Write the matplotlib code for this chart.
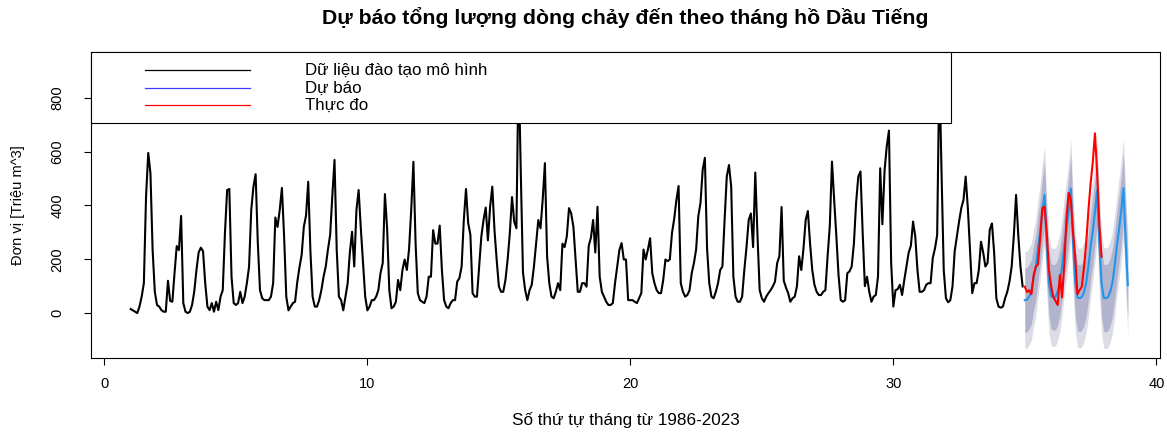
import numpy as np
import matplotlib.pyplot as plt
from matplotlib.patches import Rectangle
from matplotlib.lines import Line2D

plt.rcParams['font.family'] = ['Liberation Sans', 'DejaVu Sans']

# monthly inflow, training period (34 years, first month at x = 1)
train = [
    15, 10, 5, 0, 24, 61, 111, 433, 595, 520, 234, 79,
    30, 24, 11, 5, 5, 120, 45, 42, 149, 249, 234, 361,
    37, 5, 0, 5, 30, 80, 160, 225, 243, 230, 111, 24,
    11, 37, 5, 42, 11, 61, 85, 297, 457, 461, 135, 37,
    30, 37, 79, 37, 61, 111, 172, 383, 470, 516, 260, 85,
    55, 48, 48, 48, 61, 111, 355, 320, 383, 465, 284, 60,
    10, 24, 37, 42, 115, 170, 216, 321, 362, 488, 230, 61,
    24, 24, 48, 85, 135, 173, 236, 290, 435, 569, 236, 61,
    48, 10, 61, 111, 225, 302, 173, 383, 457, 315, 186, 61,
    10, 24, 48, 48, 61, 85, 149, 186, 442, 315, 85, 18,
    24, 42, 123, 85, 160, 199, 160, 236, 383, 562, 258, 74,
    48, 42, 37, 61, 135, 135, 308, 258, 258, 325, 160, 48,
    24, 18, 37, 48, 48, 117, 130, 173, 346, 461, 334, 291,
    74, 61, 61, 173, 285, 346, 392, 270, 395, 470, 308, 197,
    99, 79, 79, 123, 199, 298, 431, 340, 315, 930, 520, 150,
    85, 48, 85, 105, 173, 258, 346, 315, 422, 557, 211, 111,
    61, 55, 79, 111, 85, 258, 245, 285, 390, 370, 321, 200,
    79, 79, 111, 111, 98, 250, 280, 346, 225, 395, 135, 79,
    61, 42, 30, 30, 37, 111, 173, 235, 260, 199, 199, 48,
    48, 48, 42, 37, 55, 74, 236, 199, 236, 278, 148, 111,
    85, 74, 74, 123, 199, 193, 199, 298, 350, 420, 472, 111,
    79, 61, 67, 85, 148, 186, 236, 360, 409, 532, 577, 240,
    111, 61, 55, 79, 111, 160, 173, 346, 508, 550, 471, 135,
    61, 42, 42, 61, 160, 245, 346, 370, 245, 522, 290, 85,
    55, 42, 61, 74, 85, 99, 117, 186, 211, 394, 120, 95,
    74, 42, 55, 61, 99, 211, 160, 240, 346, 379, 258, 160,
    105, 79, 67, 67, 79, 85, 211, 323, 563, 420, 285, 140,
    48, 42, 48, 148, 155, 173, 258, 409, 507, 526, 300, 100,
    135, 79, 42, 61, 67, 135, 538, 330, 530, 620, 678, 186,
    24, 85, 89, 105, 67, 123, 173, 225, 250, 340, 285, 160,
    79, 79, 85, 105, 111, 111, 205, 240, 290, 910, 520, 160,
    55, 40, 48, 99, 230, 285, 340, 390, 420, 507, 390, 230,
    74, 111, 111, 160, 265, 225, 173, 186, 310, 333, 225, 55,
    24, 20, 24, 55, 79, 117, 173, 290, 439, 290, 173, 99,
]

# forecast (48 months from x = 35)
fc_mean = [
    48, 50, 62, 80, 130, 170, 240, 300, 380, 439, 250, 110,
    62, 58, 60, 80, 115, 175, 250, 310, 380, 463, 260, 115,
    58, 55, 60, 78, 112, 172, 245, 305, 375, 457, 258, 112,
    57, 55, 60, 80, 115, 175, 250, 312, 380, 464, 265, 104,
]
lo80 = [
    -72, -70, -58, -40, 10, 50, 120, 180, 260, 319, 130, -10,
    -60, -64, -62, -42, -7, 53, 128, 188, 258, 341, 138, -7,
    -66, -69, -64, -46, -12, 48, 121, 181, 251, 333, 134, -12,
    -68, -70, -65, -45, -10, 50, 125, 187, 255, 339, 140, -21,
]
hi80 = [
    168, 170, 182, 200, 250, 290, 360, 420, 500, 559, 370, 230,
    184, 180, 182, 202, 237, 297, 372, 432, 502, 585, 382, 237,
    182, 179, 184, 202, 236, 296, 369, 429, 499, 581, 382, 236,
    182, 180, 185, 205, 240, 300, 375, 437, 505, 589, 390, 229,
]
lo95 = [
    -132, -130, -118, -100, -50, -10, 60, 120, 200, 259, 70, -70,
    -120, -124, -122, -102, -67, -7, 68, 128, 198, 281, 78, -67,
    -127, -130, -125, -107, -73, -13, 60, 120, 190, 272, 73, -73,
    -130, -132, -127, -107, -72, -12, 63, 125, 193, 277, 78, -83,
]
hi95 = [
    228, 230, 242, 260, 310, 350, 420, 480, 560, 619, 430, 290,
    244, 240, 242, 262, 297, 357, 432, 492, 562, 645, 442, 297,
    243, 240, 245, 263, 297, 357, 430, 490, 560, 642, 443, 297,
    244, 242, 247, 267, 302, 362, 437, 499, 567, 651, 452, 291,
]

# observed values over the first 36 forecast months
actual = [
    98, 78, 85, 70, 140, 172, 181, 280, 390, 395, 300, 160,
    100, 60, 45, 30, 141, 58, 181, 350, 447, 420, 300, 209,
    70, 85, 98, 170, 260, 380, 480, 560, 668, 520, 330, 209,
]

x_train = 1 + np.arange(len(train)) / 12
x_fc = 35 + np.arange(len(fc_mean)) / 12
x_act = 35 + np.arange(len(actual)) / 12

fig = plt.figure(figsize=(11.67, 4.32), dpi=100)
ax = fig.add_axes([91 / 1167, 1 - 358 / 432, 1069 / 1167, 306 / 432])

ax.fill_between(x_fc, lo95, hi95, color='#dcdce7', lw=0)
ax.fill_between(x_fc, lo80, hi80, color='#b1b4cc', lw=0)
ax.plot(x_train, train, color='black', lw=1.5)
ax.plot(x_fc, fc_mean, color='#1f96ec', lw=1.5)
ax.plot(x_act, actual, color='red', lw=1.5)

ax.set_xlim(-0.51, 40.14)
ax.set_ylim(-167, 970)
ax.set_xticks([0, 10, 20, 30, 40])
ax.set_yticks([0, 200, 400, 600, 800])
ax.tick_params(direction='out', length=5, width=0.8, labelsize=10.5)
ax.tick_params(axis='x', pad=9)
ax.tick_params(axis='y', pad=14)
for lab in ax.get_yticklabels():
    lab.set_rotation(90)
    lab.set_va('center')
for s in ax.spines.values():
    s.set_linewidth(0.8)

ax.set_xlabel('Số thứ tự tháng từ 1986-2023', fontsize=12.3)
ax.xaxis.set_label_coords(0.5, (358 - 420) / 306)
ax.xaxis.label.set_va('center')
ax.set_ylabel('Đơn vị [Triệu m^3]', fontsize=10.5)
ax.yaxis.set_label_coords((18 - 91) / 1069, 0.5)
ax.yaxis.label.set_va('center')

fig.text(625 / 1167, 1 - 18 / 432, 'Dự báo tổng lượng dòng chảy đến theo tháng hồ Dầu Tiếng',
         ha='center', va='center', fontsize=15.3, fontweight='bold')

# legend box in R style
ax.add_patch(Rectangle((0, (358 - 123) / 306), (951 - 91) / 1069, 1 - (358 - 123) / 306,
                       transform=ax.transAxes, facecolor='white', edgecolor='black',
                       lw=0.8, zorder=5, clip_on=False))
leg_labels = ['Dữ liệu đào tạo mô hình', 'Dự báo', 'Thực đo']
leg_colors = ['black', '#3b3bff', 'red']
leg_y = [70, 88, 105]
for lab, col, py in zip(leg_labels, leg_colors, leg_y):
    yy = (358 - py) / 306
    ax.add_line(Line2D([(145 - 91) / 1069, (250 - 91) / 1069], [yy, yy], color=col, lw=0.9,
                       transform=ax.transAxes, zorder=6))
    ax.text((305 - 91) / 1069, yy, lab, transform=ax.transAxes, va='center', ha='left',
            fontsize=12.2, zorder=6)

fig.savefig('out.png', dpi=100)
